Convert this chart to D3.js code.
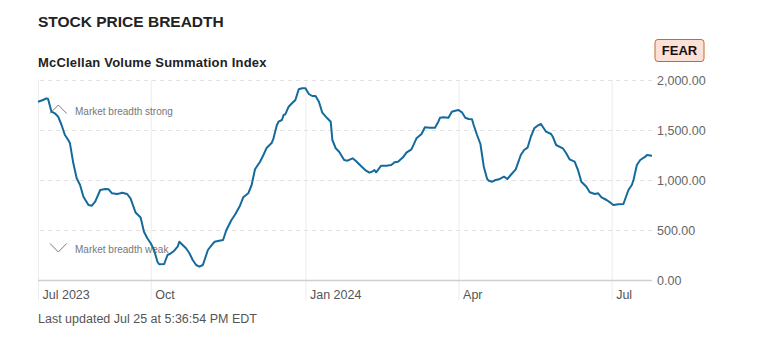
<!DOCTYPE html>
<html>
<head>
<meta charset="utf-8">
<script src="https://cdn.jsdelivr.net/npm/d3@7"></script>
<style>
  html, body { margin: 0; padding: 0; background: #fff; }
  svg { display: block; font-family: "Liberation Sans", Arial, Helvetica, sans-serif; }
</style>
</head>
<body>
<svg id="chart" width="757" height="338"></svg>
<script>
// McClellan Volume Summation Index, daily closes (approximate)
const dates = [
  "2023-07-26","2023-07-29","2023-07-31","2023-08-01","2023-08-03","2023-08-05","2023-08-07","2023-08-09",
  "2023-08-11","2023-08-13","2023-08-14","2023-08-16","2023-08-18","2023-08-20","2023-08-22","2023-08-25",
  "2023-08-27","2023-08-29","2023-09-01","2023-09-04","2023-09-06","2023-09-08","2023-09-11","2023-09-13",
  "2023-09-14","2023-09-17","2023-09-19","2023-09-22","2023-09-25","2023-09-27","2023-09-29","2023-10-01",
  "2023-10-03","2023-10-05","2023-10-06","2023-10-09","2023-10-11","2023-10-13","2023-10-15","2023-10-17",
  "2023-10-18","2023-10-20","2023-10-22","2023-10-24","2023-10-26","2023-10-28","2023-10-30","2023-11-01",
  "2023-11-04","2023-11-06","2023-11-08","2023-11-10","2023-11-13","2023-11-15","2023-11-18","2023-11-20",
  "2023-11-23","2023-11-25","2023-11-28","2023-11-30","2023-12-02","2023-12-05","2023-12-07","2023-12-09",
  "2023-12-12","2023-12-13","2023-12-15","2023-12-16","2023-12-18","2023-12-19","2023-12-20","2023-12-22",
  "2023-12-24","2023-12-26","2023-12-28","2023-12-30","2024-01-01","2024-01-03","2024-01-05","2024-01-07",
  "2024-01-09","2024-01-11","2024-01-14","2024-01-16","2024-01-17","2024-01-19","2024-01-21","2024-01-24",
  "2024-01-26","2024-01-29","2024-01-31","2024-02-03","2024-02-06","2024-02-08","2024-02-10","2024-02-11",
  "2024-02-12","2024-02-15","2024-02-18","2024-02-21","2024-02-23","2024-02-25","2024-02-28","2024-03-01",
  "2024-03-04","2024-03-07","2024-03-10","2024-03-12","2024-03-15","2024-03-18","2024-03-20","2024-03-21",
  "2024-03-23","2024-03-26","2024-03-28","2024-03-30","2024-04-01","2024-04-03","2024-04-05","2024-04-07",
  "2024-04-09","2024-04-10","2024-04-12","2024-04-14","2024-04-16","2024-04-18","2024-04-19","2024-04-21",
  "2024-04-23","2024-04-25","2024-04-28","2024-04-30","2024-05-02","2024-05-05","2024-05-08","2024-05-10",
  "2024-05-12","2024-05-14","2024-05-16","2024-05-18","2024-05-20","2024-05-23","2024-05-26","2024-05-27",
  "2024-05-29","2024-06-02","2024-06-04","2024-06-06","2024-06-09","2024-06-11","2024-06-13","2024-06-16",
  "2024-06-18","2024-06-21","2024-06-23","2024-06-25","2024-06-28","2024-06-30","2024-07-02","2024-07-05",
  "2024-07-08","2024-07-11","2024-07-13","2024-07-14","2024-07-16","2024-07-18","2024-07-21","2024-07-22",
  "2024-07-25"
];
const values = [
  1783,1800,1817,1810,1683,1667,1633,1550,
  1450,1400,1367,1167,1017,950,833,750,
  743,783,900,910,907,867,860,867,
  873,860,817,675,625,483,417,367,
  300,183,157,160,250,267,293,333,
  383,350,317,267,200,150,133,150,
  300,343,383,390,400,500,600,650,
  740,827,867,950,1107,1183,1250,1323,
  1373,1417,1550,1583,1600,1650,1657,1733,
  1767,1800,1907,1917,1917,1860,1840,1840,
  1783,1673,1617,1583,1400,1317,1283,1200,
  1193,1217,1190,1140,1093,1073,1087,1100,
  1077,1143,1143,1150,1177,1183,1227,1273,
  1307,1417,1460,1527,1523,1523,1583,1623,
  1627,1623,1683,1693,1700,1677,1623,1610,
  1607,1550,1450,1360,1133,1010,993,983,
  1000,1007,1033,1010,1050,1107,1250,1300,
  1323,1433,1517,1543,1560,1483,1460,1433,
  1350,1317,1267,1207,1183,1100,983,933,
  877,860,867,827,800,777,750,757,
  760,900,950,1000,1150,1200,1233,1250,
  1243
];

const yTicks = [0, 500, 1000, 1500, 2000];
const xTickDates = ["2023-07-26", "2023-10-01", "2024-01-01", "2024-04-01", "2024-07-01"];
const xTickLabels = ["Jul 2023", "Oct", "Jan 2024", "Apr", "Jul"];

const title = "STOCK PRICE BREADTH";
const subtitle = "McClellan Volume Summation Index";
const sentiment = "FEAR";
const strongLabel = "Market breadth strong";
const weakLabel = "Market breadth weak";
const footer = "Last updated Jul 25 at 5:36:54 PM EDT";

const parse = d3.utcParse("%Y-%m-%d");
const data = dates.map((d, i) => ({ date: parse(d), value: values[i] }));

const svg = d3.select("#chart");
const plot = { left: 38, right: 652, top: 80, bottom: 280, labelBase: 300 };

const x = d3.scaleUtc()
  .domain([parse(dates[0]), parse(dates[dates.length - 1])])
  .range([plot.left, plot.right]);
const y = d3.scaleLinear().domain([0, 2000]).range([plot.bottom, plot.top]);

// Headings
svg.append("text").attr("x", 38).attr("y", 26.5)
  .attr("font-size", 15.5).attr("font-weight", 700).attr("fill", "#222")
  .text(title);
svg.append("text").attr("x", 38).attr("y", 66.5)
  .attr("font-size", 13).attr("font-weight", 700).attr("fill", "#222")
  .attr("letter-spacing", 0.2)
  .text(subtitle);

// Sentiment badge
const badge = svg.append("g").attr("transform", "translate(655,39.5)");
badge.append("rect").attr("width", 49).attr("height", 22).attr("rx", 3)
  .attr("fill", "#fde0d5").attr("stroke", "#c8692a").attr("stroke-width", 1);
badge.append("text").attr("x", 24.5).attr("y", 15.8).attr("text-anchor", "middle")
  .attr("font-size", 13).attr("font-weight", 700).attr("fill", "#111")
  .text(sentiment);

// Vertical gridlines + x labels
const xAxis = d3.axisBottom(x)
  .tickValues(xTickDates.map(parse))
  .tickFormat((d, i) => xTickLabels[i])
  .tickSize(-(plot.labelBase - plot.top))
  .tickSizeOuter(0);
const gx = svg.append("g").attr("transform", `translate(0,${plot.labelBase})`).call(xAxis);
gx.select(".domain").remove();
gx.selectAll(".tick line").attr("stroke", "#ececec").attr("stroke-width", 1);
gx.selectAll(".tick text")
  .attr("x", 4).attr("y", -1.5).attr("dy", 0)
  .attr("text-anchor", "start")
  .attr("font-size", 12.5).attr("fill", "#555")
  .attr("font-family", "Liberation Sans, Arial, sans-serif");

// Horizontal gridlines + y labels
const yAxis = d3.axisRight(y)
  .tickValues(yTicks)
  .tickFormat(d3.format(",.2f"))
  .tickSize(-(plot.right - plot.left))
  .tickPadding(5)
  .tickSizeOuter(0);
const gy = svg.append("g").attr("transform", `translate(${plot.right},0)`).call(yAxis);
gy.select(".domain").remove();
gy.selectAll(".tick line")
  .attr("stroke", d => d === 0 ? "#cfcfcf" : "#e2e2e2")
  .attr("stroke-width", d => d === 0 ? 1.5 : 1)
  .attr("stroke-dasharray", d => d === 0 ? null : "4,4");
gy.selectAll(".tick text")
  .attr("font-size", 12.5).attr("fill", "#666")
  .attr("font-family", "Liberation Sans, Arial, sans-serif");

// Zone annotations
const notes = svg.append("g").attr("fill", "none").attr("stroke", "#7a7a7a").attr("stroke-width", 1);
notes.append("polyline").attr("points", "50,113.5 58.3,105 66.7,113.5");
notes.append("polyline").attr("points", "50,243.5 58.3,252 66.7,243.5");
svg.append("text").attr("x", 75).attr("y", 115).attr("font-size", 10).attr("fill", "#777").text(strongLabel);
svg.append("text").attr("x", 75).attr("y", 253).attr("font-size", 10).attr("fill", "#777").text(weakLabel);

// Index line
const line = d3.line().x(d => x(d.date)).y(d => y(d.value)).curve(d3.curveLinear);
svg.append("path").datum(data)
  .attr("fill", "none").attr("stroke", "#136a9b").attr("stroke-width", 2)
  .attr("stroke-linejoin", "round")
  .attr("d", line);

// Footer
svg.append("text").attr("x", 38).attr("y", 323).attr("font-size", 12.5).attr("fill", "#555").text(footer);
</script>
</body>
</html>
